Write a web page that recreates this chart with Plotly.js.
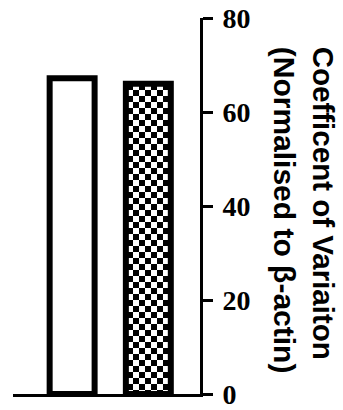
<!DOCTYPE html>
<html>
<head>
<meta charset="utf-8">
<script src="https://cdn.plot.ly/plotly-3.0.1.min.js"></script>
<style>
  html, body { margin: 0; padding: 0; background: #fff; }
  #chart { width: 343px; height: 410px; }
</style>
</head>
<body>
<div id="chart"></div>
<script>
// Data
const categories = ['Group A', 'Group B'];
const values = [67.2, 66.0];
const fills = ['#ffffff', '#ffffff'];
const yTickVals = [0, 20, 40, 60, 80];
const yTickText = ['0', '20', '40', '60', '80'];
const titleLine1 = 'Coefficent of Variaiton';
const titleLine2 = '(Normalised to β-actin)';

const traces = categories.map((c, i) => ({
  type: 'bar',
  x: [c],
  y: [values[i]],
  width: 0.59,
  marker: { color: fills[i], line: { color: '#000', width: 6 } },
  showlegend: false,
  hoverinfo: 'none'
}));

const layout = {
  width: 343,
  height: 410,
  margin: { l: 13, r: 143, t: 18, b: 16, pad: 0 },
  paper_bgcolor: '#fff',
  plot_bgcolor: '#fff',
  barmode: 'overlay',
  showlegend: false,
  xaxis: {
    type: 'category',
    categoryorder: 'array',
    categoryarray: categories,
    range: [-0.776, 1.678],
    showline: true,
    linecolor: '#000',
    linewidth: 3,
    ticks: '',
    showticklabels: false,
    showgrid: false,
    zeroline: false,
    fixedrange: true
  },
  yaxis: {
    side: 'right',
    range: [0, 80],
    tickvals: yTickVals,
    ticktext: yTickText,
    ticks: 'outside',
    ticklen: 10,
    tickwidth: 3,
    tickcolor: '#000',
    showline: true,
    linecolor: '#000',
    linewidth: 3,
    showgrid: false,
    zeroline: false,
    ticklabeloverflow: 'allow',
    ticklabelstandoff: 4,
    tickfont: { family: 'Liberation Serif', size: 28, color: '#000', weight: 'bold' },
    fixedrange: true
  },
  annotations: [{
    text: '<span style="font-size:29.5px">' + titleLine1 + '</span><br>' + titleLine2,
    xref: 'paper', yref: 'paper',
    x: 1.35, y: 0.929,
    xanchor: 'left', yanchor: 'top',
    textangle: 90,
    align: 'left',
    showarrow: false,
    font: { family: 'Liberation Sans', size: 30, color: '#000', weight: 'bold' }
  }]
};

Plotly.newPlot('chart', traces, layout, { displayModeBar: false, staticPlot: true }).then(gd => {
  const svg = gd.querySelector('.main-svg');
  const ns = 'http://www.w3.org/2000/svg';
  let defs = svg.querySelector('defs');
  if (!defs) { defs = document.createElementNS(ns, 'defs'); svg.insertBefore(defs, svg.firstChild); }
  const pat = document.createElementNS(ns, 'pattern');
  pat.setAttribute('id', 'checker');
  pat.setAttribute('patternUnits', 'userSpaceOnUse');
  pat.setAttribute('width', '12');
  pat.setAttribute('height', '12');
  const mk = (x, y, w, h, f) => {
    const r = document.createElementNS(ns, 'rect');
    r.setAttribute('x', x); r.setAttribute('y', y);
    r.setAttribute('width', w); r.setAttribute('height', h);
    r.setAttribute('fill', f);
    pat.appendChild(r);
  };
  mk(0, 0, 12, 12, '#fff');
  mk(0, 0, 6, 6, '#000');
  mk(6, 6, 6, 6, '#000');
  defs.appendChild(pat);
  const traceGroups = gd.querySelectorAll('.barlayer .trace');
  if (traceGroups[1]) {
    traceGroups[1].querySelectorAll('path').forEach(p => { p.style.fill = 'url(#checker)'; });
  }
});
</script>
</body>
</html>
